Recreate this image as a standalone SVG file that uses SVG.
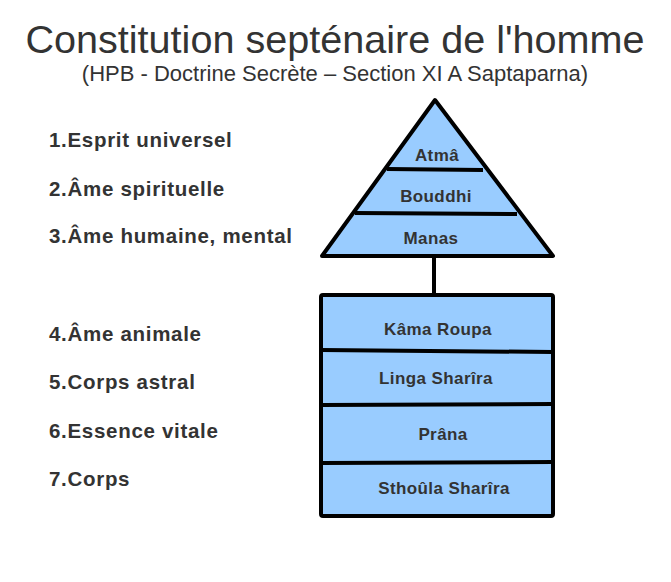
<svg xmlns="http://www.w3.org/2000/svg" width="671" height="582" viewBox="0 0 671 582">
<style>
.title{font-family:"Liberation Sans",Arial,sans-serif;fill:#333333;text-anchor:middle}
.lab{font-family:"Liberation Sans",Arial,sans-serif;font-weight:bold;font-size:20.5px;fill:#333333;letter-spacing:0.7px}
.in{font-family:"Liberation Sans",Arial,sans-serif;font-weight:bold;font-size:17px;fill:#333333;text-anchor:middle;letter-spacing:0.4px}
.shape{fill:#99ccff;stroke:#000000;stroke-width:4;stroke-linejoin:round}
.div{stroke:#000000;stroke-width:4;fill:none}
</style>
<rect width="671" height="582" fill="#ffffff"/>
<text class="title" x="335" y="53" font-size="39.6">Constitution septénaire de l'homme</text>
<text class="title" x="335" y="81" font-size="22">(HPB - Doctrine Secrète – Section XI A Saptaparna)</text>
<g id="labels">
<text class="lab" x="49" y="147">1.Esprit universel</text>
<text class="lab" x="49" y="196">2.Âme spirituelle</text>
<text class="lab" x="49" y="243">3.Âme humaine, mental</text>
<text class="lab" x="49" y="341">4.Âme animale</text>
<text class="lab" x="49" y="389">5.Corps astral</text>
<text class="lab" x="49" y="438">6.Essence vitale</text>
<text class="lab" x="49" y="486">7.Corps</text>
</g>
<g id="connectors">
<line class="div" x1="434" y1="256" x2="434" y2="295"/>
</g>
<g id="pyramid">
<polygon class="shape" points="435,100 553,256 322,256"/>
<line class="div" x1="387" y1="169" x2="483" y2="170"/>
<line class="div" x1="355" y1="213" x2="517" y2="214"/>
<text class="in" x="437" y="161">Atmâ</text>
<text class="in" x="436" y="202">Bouddhi</text>
<text class="in" x="431" y="244">Manas</text>
</g>
<g id="body">
<rect class="shape" x="321" y="295" width="232" height="221" rx="2"/>
<line class="div" x1="321" y1="350" x2="553" y2="352"/>
<line class="div" x1="321" y1="405" x2="553" y2="404"/>
<line class="div" x1="321" y1="463" x2="553" y2="462"/>
<text class="in" x="438" y="335">Kâma Roupa</text>
<text class="in" x="436" y="384">Linga Sharîra</text>
<text class="in" x="443" y="440">Prâna</text>
<text class="in" x="444" y="494">Sthoûla Sharîra</text>
</g>
</svg>
